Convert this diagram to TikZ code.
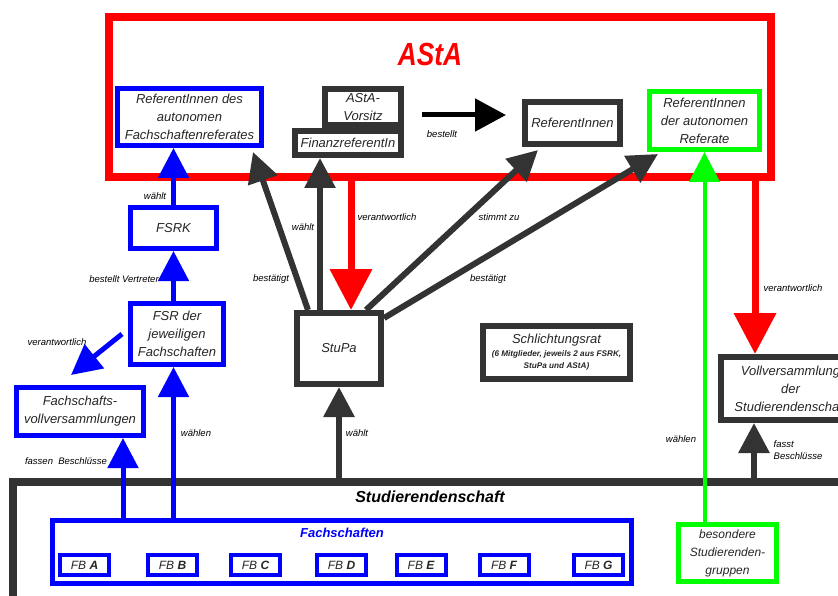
\documentclass[tikz,border=0pt]{standalone}
\usepackage{fontspec}
\setmainfont{Liberation Sans}
\usepackage{graphicx}
\usetikzlibrary{arrows.meta}
\definecolor{dgray}{HTML}{333333}
\definecolor{lgreen}{HTML}{00FF00}

\begin{document}
\begin{tikzpicture}[x=1pt,y=-1pt,
  box/.style={draw,fill=white,align=center,inner sep=1pt,text=black!85,font=\fontsize{13}{18}\selectfont\itshape},
  bluebox/.style={box,draw=blue,line width=5pt},
  graybox/.style={box,draw=dgray,line width=6pt},
  greenbox/.style={box,draw=lgreen,line width=5pt},
  fbbox/.style={box,draw=blue,line width=4pt,minimum width=49pt,minimum height=20pt,font=\fontsize{12}{14}\selectfont\itshape},
  lbl/.style={inner sep=0pt,align=left,font=\fontsize{9.5}{12}\selectfont\itshape},
  bluearr/.style={blue,line width=5pt,-{Triangle[length=30pt,width=30pt]}},
  grayarr/.style={dgray,line width=6pt,-{Triangle[length=30pt,width=30pt]}},
  redarr/.style={red,line width=7pt,-{Triangle[length=41pt,width=41pt]}},
  greenarr/.style={lgreen,line width=4pt,-{Triangle[length=30pt,width=30pt]}}]
  \useasboundingbox (0,0) rectangle (838,596);
  \clip (0,0) rectangle (838,596);

  % AStA
  \node[draw=red,line width=8pt,minimum width=662pt,minimum height=160pt] (asta) at (440,97) {};
  \node[text=red,inner sep=0pt,font=\fontsize{32}{32}\selectfont\bfseries\itshape] (astaT) at (430,54) {\scalebox{0.82}[1]{AStA}};
  \node[bluebox,minimum width=144pt,minimum height=57pt] (refFS) at (189.5,117) {ReferentInnen des\\autonomen\\Fachschaftenreferates};
  \node[graybox,minimum width=76pt,minimum height=36pt] (vorsitz) at (363,107) {AStA-\\Vorsitz};
  \node[graybox,minimum width=106pt,minimum height=24pt] (finanz) at (348,143) {FinanzreferentIn};
  \node[graybox,minimum width=95pt,minimum height=42pt] (refs) at (572.5,123) {ReferentInnen};
  \node[greenbox,minimum width=110pt,minimum height=58pt] (refAut) at (704.5,120.5) {ReferentInnen\\der autonomen\\Referate};

  % Gremien
  \node[bluebox,minimum width=86pt,minimum height=41pt] (fsrk) at (173.5,228) {FSRK};
  \node[bluebox,minimum width=93pt,minimum height=61pt] (fsr) at (177,334) {FSR der\\jeweiligen\\Fachschaften};
  \node[bluebox,minimum width=127pt,minimum height=48pt] (fvv) at (80,411.5) {Fachschafts-\\vollversammlungen};
  \node[graybox,minimum width=84pt,minimum height=71pt] (stupa) at (339,348.5) {StuPa};
  \node[graybox,minimum width=147pt,minimum height=53pt] (schlicht) at (556.5,352.5) {Schlichtungsrat\\[-5pt]{\fontsize{8.2}{12}\selectfont\bfseries\itshape (6 Mitglieder, jeweils 2 aus FSRK,}\\[-6pt]{\fontsize{8.2}{12}\selectfont\bfseries\itshape StuPa und AStA)}};
  \node[graybox,minimum width=139pt,minimum height=63pt] (vv) at (790.5,388.5) {Vollversammlung\\der\\Studierendenschaft};

  % Studierendenschaft
  \node[draw=dgray,line width=8pt,minimum width=900pt,minimum height=200pt] (studs) at (463,582) {};
  \node[inner sep=0pt,font=\fontsize{16}{16}\selectfont\bfseries\itshape] (studsT) at (430,497) {Studierendenschaft};
  \node[bluebox,minimum width=579pt,minimum height=63pt] (fachs) at (342,552) {};
  \node[text=blue,inner sep=0pt,font=\fontsize{13}{13}\selectfont\bfseries\itshape] (fachsT) at (342,533) {Fachschaften};
  \node[fbbox] (fbA) at (84.5,565) {FB \textbf{A}};
  \node[fbbox] (fbB) at (172.5,565) {FB \textbf{B}};
  \node[fbbox] (fbC) at (255.5,565) {FB \textbf{C}};
  \node[fbbox] (fbD) at (341.5,565) {FB \textbf{D}};
  \node[fbbox] (fbE) at (421,565) {FB \textbf{E}};
  \node[fbbox] (fbF) at (504,565) {FB \textbf{F}};
  \node[fbbox] (fbG) at (598.5,565) {FB \textbf{G}};
  \node[greenbox,minimum width=98pt,minimum height=57pt,font=\fontsize{12}{18}\selectfont\itshape] (besondere) at (727.5,553) {besondere\\Studierenden-\\gruppen};

  % Pfeile
  \draw[bluearr] (fsrk.north) -- (fsrk.north |- refFS.south);
  \draw[bluearr] (fsrk |- fsr.north) -- (fsrk.south);
  \draw[bluearr] ([xshift=-6]fsr.west) -- ([xshift=-9,yshift=10]fvv.north);
  \draw[bluearr] ([xshift=43]fvv.south |- fachs.north) -- ([xshift=43]fvv.south);
  \draw[bluearr] (fsrk |- fachs.north) -- (fsrk |- fsr.south);
  \draw[grayarr] ([xshift=-31]stupa.north) -- ([xshift=-11,yshift=-4]refFS.south east);
  \draw[grayarr] ([xshift=-19]stupa.north) -- ([xshift=-19]stupa.north |- finanz.south);
  \draw[redarr] ([xshift=12,yshift=4]stupa.north |- asta.south) -- ([xshift=12]stupa.north);
  \draw[grayarr] ([xshift=27]stupa.north) -- ([xshift=16,yshift=-3]refs.south west);
  \draw[grayarr] ([yshift=-8]stupa.north east) -- ([xshift=11,yshift=-2]refAut.south west);
  \draw[grayarr] (stupa |- studs.north) -- (stupa.south);
  \draw[black,line width=5pt,-{Triangle[length=31pt,width=32pt]}] ([xshift=18,yshift=-8]vorsitz.east) -- ([xshift=-16,yshift=8]refs.west);
  \draw[greenarr] (refAut |- besondere.north) -- (refAut.south);
  \draw[redarr] ([xshift=-35.5,yshift=4]vv.north |- asta.south) -- ([xshift=-35.5]vv.north);
  \draw[grayarr] ([xshift=-36.5]vv.south |- studs.north) -- ([xshift=-36.5]vv.south);

  % Beschriftungen
  \node[lbl] (lWaehlt) at (155,196) {wählt};
  \node[lbl] (lBestellt) at (124,279) {bestellt Vertreter};
  \node[lbl] (lVerantw) at (57,342) {verantwortlich};
  \node[lbl] (lFassen) at (66,461) {fassen\ \ Beschlüsse};
  \node[lbl] (lWaehlen) at (196,433) {wählen};
  \node[lbl] (lBestaetigt) at (271,279) {bestätigt};
  \node[lbl] (lWaehltF) at (303,227) {wählt};
  \node[lbl] (lVerantwS) at (387,217) {verantwortlich};
  \node[lbl] (lStimmt) at (499,217) {stimmt zu};
  \node[lbl] (lBestaetigtR) at (488,279) {bestätigt};
  \node[lbl] (lWaehltS) at (357,433) {wählt};
  \node[lbl] (lWaehlenG) at (681,439) {wählen};
  \node[lbl] (lVerantwV) at (793,288) {verantwortlich};
  \node[lbl] (lFasst) at (798,450) {fasst\\Beschlüsse};
  \node[lbl] (lBestelltA) at (442,134) {bestellt};
\end{tikzpicture}
\end{document}
